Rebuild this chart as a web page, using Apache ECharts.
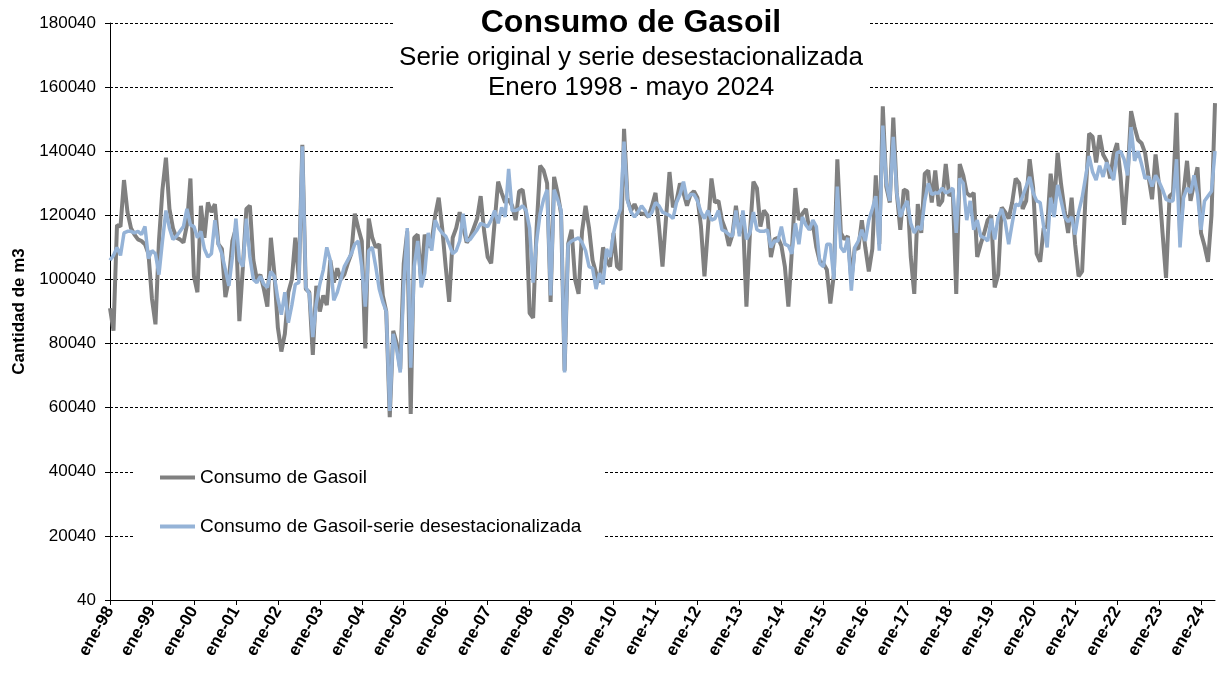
<!DOCTYPE html>
<html>
<head>
<meta charset="utf-8">
<script src="https://cdn.jsdelivr.net/npm/echarts@6/dist/echarts.min.js"></script>
<style>
html,body{margin:0;padding:0;background:#fff;}
#chart{width:1218px;height:673px;}
</style>
</head>
<body>
<div id="chart"></div>
<script>
// ---- Data ----
const monthAbbr = ['ene','feb','mar','abr','may','jun','jul','ago','sep','oct','nov','dic'];
const yearCodes = ['98','99','00','01','02','03','04','05','06','07','08','09','10','11','12','13','14','15','16','17','18','19','20','21','22','23','24'];
const lastYearMonths = 5; // enero - mayo 2024

const yTickLabels = ['40','20040','40040','60040','80040','100040','120040','140040','160040','180040'];

const seriesNames = ['Consumo de Gasoil', 'Consumo de Gasoil-serie desestacionalizada'];

// Consumo de Gasoil (serie original), m3, ene-98 .. may-24
const consumoOriginal = [
  91000, 84000, 117000, 116500, 131000, 121000, 116000, 114000, 112500, 112000, 111000, 108000,
  94000, 86000, 112000, 128000, 138000, 122000, 116000, 113000, 112500, 111500, 117000, 131500,
  101000, 96000, 123000, 113000, 124000, 121000, 123500, 111000, 109500, 94500, 100000, 112000,
  116000, 87000, 104000, 122000, 123000, 106000, 100000, 101500, 97000, 91500, 113000, 102000,
  85000, 77500, 83000, 96000, 100000, 113000, 100000, 142000, 97000, 96000, 76500, 98000,
  90000, 95000, 92000, 106000, 99000, 103500, 100000, 101500, 105000, 108000, 120500, 116000,
  112000, 78500, 119000, 113000, 110000, 111000, 95000, 90000, 57000, 84000, 80000, 72000,
  105000, 115000, 58000, 113000, 114000, 99000, 114000, 110000, 112000, 120000, 125500, 116000,
  104000, 93000, 113000, 116000, 121000, 116500, 111500, 113000, 116000, 119000, 126000, 115000,
  107000, 105000, 118000, 130500, 127000, 124000, 125000, 123000, 118500, 127500, 128000, 120500,
  89500, 88000, 116000, 135500, 134000, 130000, 93000, 132000, 127000, 120500, 71500, 111000,
  115500, 100000, 95500, 115000, 123000, 116000, 106000, 102000, 99000, 110000, 106000, 104000,
  114500, 104000, 103000, 147000, 125000, 121500, 123500, 121000, 120500, 120500, 119500, 123000,
  127000, 116500, 104000, 119000, 133500, 122500, 124500, 130000, 127000, 123000, 126500, 127500,
  125500, 116500, 101000, 116000, 131500, 124000, 124500, 118500, 115500, 110500, 114000, 123000,
  114500, 119500, 91500, 114500, 130500, 128500, 116500, 121500, 120000, 107000, 112500, 113000,
  110500, 104000, 91500, 109000, 128500, 118500, 120500, 122000, 115500, 117500, 110000, 105500,
  105000, 103000, 92500, 101500, 137500, 114500, 112500, 113500, 100000, 110000, 109500, 118500,
  110000, 102500, 109500, 132500, 111000, 154000, 129000, 124000, 150500, 127000, 115500, 128000,
  127500, 107000, 95500, 123500, 114500, 133000, 134000, 124000, 134000, 123000, 124500, 136000,
  126000, 128000, 95500, 136000, 132500, 127000, 126000, 127000, 107000, 111000, 114500, 118500,
  120000, 97500, 101500, 122500, 121000, 119000, 124000, 131500, 130000, 122000, 124500, 137500,
  128500, 108000, 105500, 116000, 116500, 133000, 123500, 139500, 129500, 121500, 114500, 125500,
  111000, 101000, 102500, 126500, 145500, 144500, 136500, 145000, 139000, 137000, 131500, 139000,
  142500, 132000, 117000, 132000, 152500, 147500, 143500, 142500, 139500, 132000, 125000, 139000,
  129500, 114500, 100500, 126000, 127000, 152000, 114500, 127000, 137000, 124500, 130000, 135000,
  114500, 110500, 105500, 120000, 155000
];

// Consumo de Gasoil - serie desestacionalizada, m3
const consumoDesest = [
  106000, 107500, 110000, 107500, 114500, 115000, 115000, 114500, 115000, 114000, 116500, 106500,
  109000, 108000, 101500, 112000, 121500, 116000, 112500, 113500, 115000, 116500, 122000, 117000,
  116500, 113000, 115000, 109500, 107000, 108000, 118500, 111000, 108000, 103000, 98000, 107000,
  119000, 106000, 104000, 119000, 107000, 100000, 99000, 101000, 98500, 97500, 102500, 101000,
  94000, 89000, 96000, 86500, 92000, 98500, 99000, 141500, 97500, 95500, 82000, 92500,
  98500, 103000, 110000, 106000, 93500, 96000, 100000, 104000, 106000, 108000, 111000, 112000,
  104000, 91500, 109000, 110000, 104000, 97000, 93000, 90000, 59000, 83000, 78000, 71000,
  98000, 116000, 72500, 104000, 112000, 97500, 102000, 114500, 109000, 118500, 116000, 114500,
  113500, 111000, 108000, 109000, 112000, 120500, 112000, 112500, 114000, 115500, 117500, 117000,
  116500, 118500, 121500, 117500, 122500, 119500, 134500, 121500, 121500, 122000, 123000, 121500,
  116000, 99000, 112000, 120500, 125000, 128000, 95000, 128000, 125000, 121500, 71000, 111000,
  112000, 112500, 113000, 111500, 109000, 104000, 103500, 97000, 102000, 98500, 109500, 107000,
  114500, 119000, 122000, 143000, 124500, 121000, 119500, 121000, 123000, 121500, 119500, 121000,
  124000, 123000, 121000, 120500, 120000, 119000, 124000, 126500, 130500, 125000, 126500, 126500,
  124500, 121000, 119000, 121500, 118500, 119000, 121500, 115500, 115000, 114000, 113500, 121500,
  113500, 121500, 112500, 114500, 121000, 115500, 115000, 115000, 115500, 110000, 112000, 112000,
  116500, 111000, 110500, 108000, 117500, 111000, 119500, 117000, 115500, 118500, 116500, 105000,
  104000, 111000, 111000, 100000, 129000, 110000, 108500, 113000, 96500, 110000, 112000, 115500,
  112000, 118500, 122000, 126000, 109000, 148000, 130000, 124500, 144500, 127000, 119500, 122500,
  124500, 117500, 114500, 116500, 115500, 124500, 130000, 126500, 127000, 127000, 128500, 127000,
  127500, 128500, 114500, 131500, 130000, 118500, 124500, 115500, 118500, 113500, 113000, 112000,
  119000, 112500, 119500, 122000, 118000, 111000, 117500, 123500, 123000, 126000, 129000, 132000,
  127000, 124500, 124000, 116500, 110000, 125500, 119500, 129500, 124500, 119500, 118000, 119500,
  114000, 121000, 125500, 132000, 138500, 133500, 131000, 135500, 132000, 136500, 134000, 131000,
  139500, 140000, 137500, 132500, 147500, 137000, 140000, 136000, 131500, 132000, 129000, 132500,
  130500, 128000, 125000, 124500, 124500, 137500, 110000, 125500, 128500, 127000, 132500, 126500,
  115500, 124500, 126000, 127500, 140000
];

// category labels: ene-98 ... may-24
const categories = [];
yearCodes.forEach((yy, yi) => {
  const n = (yi === yearCodes.length - 1) ? lastYearMonths : 12;
  for (let m = 0; m < n; m++) categories.push(monthAbbr[m] + '-' + yy);
});

const FONT = 'Liberation Sans, Arial, Helvetica, sans-serif';

const chart = echarts.init(document.getElementById('chart'), null, {renderer: 'canvas'});
chart.setOption({
  animation: false,
  backgroundColor: '#ffffff',
  textStyle: {fontFamily: FONT, color: '#000'},
  grid: {left: 110, right: 3, top: 23, bottom: 73, containLabel: false},
  graphic: [
    {type: 'rect', z: 100, shape: {x: 395, y: 0, width: 473, height: 101}, style: {fill: '#ffffff'}},
    {type: 'text', z: 101, x: 631, y: 23, style: {text: 'Consumo de Gasoil', font: 'bold 32px ' + FONT, fill: '#000', align: 'center', verticalAlign: 'middle'}},
    {type: 'text', z: 101, x: 631, y: 58, style: {text: 'Serie original y serie desestacionalizada', font: '26px ' + FONT, fill: '#000', align: 'center', verticalAlign: 'middle'}},
    {type: 'text', z: 101, x: 631, y: 88, style: {text: 'Enero 1998 - mayo 2024', font: '26px ' + FONT, fill: '#000', align: 'center', verticalAlign: 'middle'}}
  ],
  legend: {
    orient: 'vertical',
    left: 135,
    top: 456,
    padding: [12, 22, 12, 25],
    backgroundColor: '#ffffff',
    icon: 'rect',
    itemWidth: 35,
    itemHeight: 4,
    itemGap: 30,
    z: 50,
    textStyle: {fontSize: 19, color: '#000', fontFamily: FONT},
    data: seriesNames
  },
  xAxis: {
    type: 'category',
    data: categories,
    boundaryGap: false,
    axisLine: {show: true, lineStyle: {color: '#000', width: 1}},
    axisTick: {show: true, interval: 11, length: 5, inside: false, lineStyle: {color: '#000'}},
    axisLabel: {
      interval: 11, rotate: 60, margin: 8,
      fontSize: 17, fontWeight: 'bold', color: '#000', fontFamily: FONT
    },
    splitLine: {show: false}
  },
  yAxis: {
    type: 'value',
    min: 0, max: 180000, interval: 20000,
    name: 'Cantidad de m3',
    nameLocation: 'middle',
    nameGap: 82,
    nameRotate: 90,
    nameTextStyle: {fontSize: 17, fontWeight: 'bold', color: '#000', fontFamily: FONT},
    axisLine: {show: true, lineStyle: {color: '#000', width: 1}},
    axisTick: {show: true, length: 5, inside: false, lineStyle: {color: '#000'}},
    axisLabel: {
      margin: 14, fontSize: 17, color: '#000', fontFamily: FONT,
      formatter: function (v) { return yTickLabels[Math.round(v / 20000)]; }
    },
    splitLine: {show: true, lineStyle: {color: '#000', width: 1, type: [3, 2]}}
  },
  series: [
    {
      name: seriesNames[0], type: 'line', data: consumoOriginal,
      symbol: 'none', smooth: false,
      itemStyle: {color: '#808080'},
      lineStyle: {color: '#808080', width: 4}, z: 2
    },
    {
      name: seriesNames[1], type: 'line', data: consumoDesest,
      symbol: 'none', smooth: false,
      itemStyle: {color: '#95B3D7'},
      lineStyle: {color: '#95B3D7', width: 3.5}, z: 3
    }
  ]
});
</script>
</body>
</html>
